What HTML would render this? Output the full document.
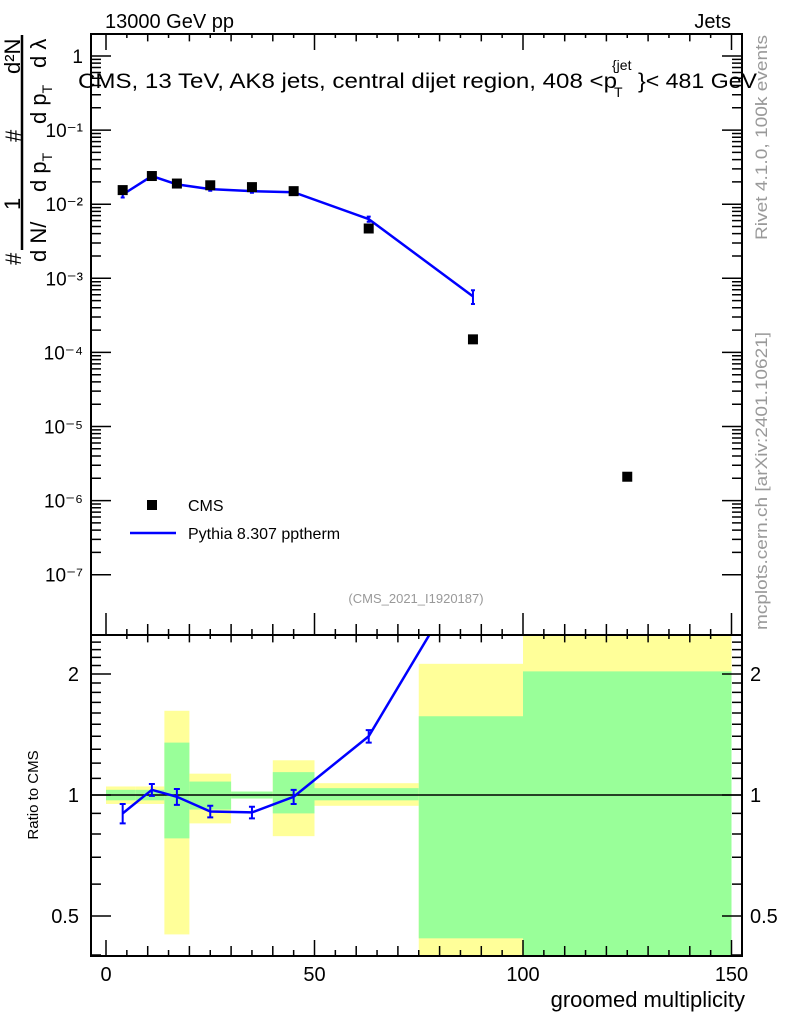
<!DOCTYPE html>
<html><head><meta charset="utf-8"><style>
body{margin:0;background:#fff}
svg{display:block;font-family:"Liberation Sans",sans-serif}
</style></head><body>
<svg id="chart" width="786" height="1024" viewBox="0 0 786 1024" xmlns="http://www.w3.org/2000/svg">
<g id="bands"></g>
<g id="marks"></g>
<g id="axes"></g>
<text x="105" y="28" font-size="20">13000 GeV pp</text>
<text x="731" y="28" font-size="20" text-anchor="end">Jets</text>
<g font-size="21">
<text x="78" y="88" textLength="539" lengthAdjust="spacingAndGlyphs">CMS, 13 TeV, AK8 jets, central dijet region, 408 &lt;p</text>
<text x="612" y="70" font-size="14">{jet</text>
<text x="614" y="97" font-size="14">T</text>
<text x="638" y="88" textLength="119" lengthAdjust="spacingAndGlyphs">}&lt; 481 GeV</text>
</g>
<text x="416" y="603" font-size="13" fill="#999" text-anchor="middle">(CMS_2021_I1920187)</text>
<text transform="translate(767,240) rotate(-90)" font-size="17" fill="#999" textLength="205" lengthAdjust="spacingAndGlyphs">Rivet 4.1.0,  100k events</text>
<text transform="translate(767,630) rotate(-90)" font-size="17" fill="#999" textLength="298" lengthAdjust="spacingAndGlyphs">mcplots.cern.ch [arXiv:2401.10621]</text>
<g font-size="22">
<line x1="22" y1="35" x2="22" y2="250" stroke="#000" stroke-width="2.5"/>
<text transform="translate(21,265) rotate(-90)">#</text>
<text transform="translate(20,210) rotate(-90)">1</text>
<text transform="translate(21,142) rotate(-90)">#</text>
<text transform="translate(20,74) rotate(-90)">d²N</text>
<text transform="translate(46,262) rotate(-90)">d N/</text>
<text transform="translate(46,192) rotate(-90)">d p<tspan font-size="14" dy="6">T</tspan></text>
<text transform="translate(46,124) rotate(-90)">d p<tspan font-size="14" dy="6">T</tspan></text>
<text transform="translate(46,68) rotate(-90)">d λ</text>
</g>
<text transform="translate(38,795) rotate(-90)" font-size="15" text-anchor="middle">Ratio to CMS</text>
<text x="745" y="1007" font-size="22" text-anchor="end">groomed multiplicity</text>
<g>
<rect x="147" y="500" width="10" height="10" fill="#000"/>
<text x="188" y="511" font-size="16">CMS</text>
<line x1="130" y1="533" x2="176" y2="533" stroke="#00f" stroke-width="2.5"/>
<text x="188" y="539" font-size="16">Pythia 8.307 pptherm</text>
</g>
</svg>
<script>
const xCms=[4,11,17,25,35,45,63,88,125];
const yCms=[0.0155,0.024,0.019,0.018,0.017,0.015,0.0047,0.00015,0.0000021];
const xMc=[4,11,17,25,35,45,63,88];
const yMc=[0.0135,0.024,0.0185,0.016,0.015,0.0145,0.0063,0.00057];
const yMcErr=[0.0012,0.0015,0.001,0.0008,0.0007,0.0007,0.0005,0.00012];
const ratio=[0.9,1.03,0.99,0.91,0.905,0.99,1.4,3.8];
const ratioErr=[0.05,0.035,0.045,0.03,0.03,0.04,0.05,0.3];
const binLo=[0,7,14,20,30,40,50,75,100];
const binHi=[7,14,20,30,40,50,75,100,150];
const greenLo=[0.97,0.97,0.78,0.92,0.98,0.9,0.97,0.44,0.3];
const greenHi=[1.03,1.03,1.35,1.08,1.02,1.14,1.04,1.57,2.03];
const yellowLo=[0.95,0.95,0.45,0.85,0.98,0.79,0.94,0.3,0.3];
const yellowHi=[1.05,1.05,1.62,1.13,1.02,1.22,1.07,2.12,2.6];
const xTickLabels=["0","50","100","150"];
const yTickLabels=["1","10⁻¹","10⁻²","10⁻³","10⁻⁴","10⁻⁵","10⁻⁶","10⁻⁷"];
const rTickVals=[0.5,1,2];
const rTickLabels=["0.5","1","2"];

const L=91,R=742,T=34,M=635,B=956;
const X=v=>106+v*4.17;
const Y=v=>56-Math.log10(v)*74.1;
const RY=v=>{const c=Math.min(Math.max(v,0.398),2.51);return 795-Math.log10(c)*402;};
const NS="http://www.w3.org/2000/svg";
function mk(p,tag,a){const e=document.createElementNS(NS,tag);for(const k in a)e.setAttribute(k,a[k]);p.appendChild(e);return e;}
const bands=document.getElementById('bands'),marks=document.getElementById('marks'),axes=document.getElementById('axes');

for(let i=0;i<binLo.length;i++){
 const x1=X(binLo[i]),x2=Math.min(X(binHi[i]),R);
 let r=mk(bands,'rect',{x:x1,y:RY(yellowHi[i]),width:x2-x1,height:RY(yellowLo[i])-RY(yellowHi[i]),fill:'#ffff99'});
 
 
 let g=mk(bands,'rect',{x:x1,y:RY(greenHi[i]),width:x2-x1,height:RY(greenLo[i])-RY(greenHi[i]),fill:'#99ff99'});
 
 
}
let one=mk(marks,'line',{x1:L,x2:R,y1:RY(1),y2:RY(1),stroke:'#000','stroke-width':1.5});



let pl=mk(marks,'polyline',{points:xMc.map((x,i)=>X(x)+','+Y(yMc[i])).join(' '),fill:'none',stroke:'#00f','stroke-width':2.5});


xMc.forEach((x,i)=>{
 const e=mk(marks,'path',{d:`M${X(x)},${Y(yMc[i]+yMcErr[i])}V${Y(yMc[i]-yMcErr[i])}M${X(x)-2},${Y(yMc[i]+yMcErr[i])}h4M${X(x)-2},${Y(yMc[i]-yMcErr[i])}h4`,stroke:'#00f','stroke-width':2});
 
 
});
xCms.forEach((x,i)=>{
 const r=mk(marks,'rect',{x:X(x)-5,y:Y(yCms[i])-5,width:10,height:10,fill:'#000'});
 
 
});
const cp=mk(marks,'clipPath',{id:'rclip'});mk(cp,'rect',{x:L,y:M,width:R-L,height:B-M});
const rl=mk(marks,'polyline',{points:xMc.map((x,i)=>X(x)+','+(795-Math.log10(ratio[i])*402)).join(' '),fill:'none',stroke:'#00f','stroke-width':2.5,'clip-path':'url(#rclip)'});


xMc.forEach((x,i)=>{
 if(ratio[i]>2.5)return;
 const a=RY(ratio[i]+ratioErr[i]),b=RY(ratio[i]-ratioErr[i]);
 const e=mk(marks,'path',{d:`M${X(x)},${a}V${b}M${X(x)-3},${a}h6M${X(x)-3},${b}h6`,stroke:'#00f','stroke-width':2});
 
 
});

mk(axes,'rect',{x:L,y:T,width:R-L,height:M-T,fill:'none',stroke:'#000','stroke-width':2});
mk(axes,'rect',{x:L,y:M,width:R-L,height:B-M,fill:'none',stroke:'#000','stroke-width':2});
let d='';
for(let v=0;v<=150;v+=5){const big=v%50===0,mid=v%10===0;const h=big?22:(mid?11:6);const x=X(v);
 d+=`M${x},${T}v${big?16:h/1.5}M${x},${M}v${-h}M${x},${M}v${big?-16:h/1.5}`;
 if(v%10===0||big)d+=`M${x},${B}v${-(big?16:10)}`; else d+=`M${x},${B}v-6`;}
for(let e=0;e>=-7;e--){for(let k=1;k<10;k++){const v=k*Math.pow(10,e);const y=Y(v);if(y<T||y>M)continue;const w=k===1?20:10;
 d+=`M${L},${y}h${w}M${R},${y}h${-w}`;}}
for(let k=0.4;k<=2.5;k+=0.1){const y=RY(k);if(y<=M||y>=B)continue;const w=(Math.abs(k-0.5)<.01||Math.abs(k-1)<.01||Math.abs(k-2)<.01)?20:10;d+=`M${L},${y}h${w}M${R},${y}h${-w}`;}
mk(axes,'path',{d:d,stroke:'#000','stroke-width':1.5,fill:'none'});
xTickLabels.forEach((t,i)=>{const e=mk(axes,'text',{x:X(i*50),y:981,'font-size':20,'text-anchor':'middle'});e.textContent=t;
 
 });
yTickLabels.forEach((t,i)=>{const e=mk(axes,'text',{x:83,y:Y(Math.pow(10,-i))+7,'font-size':19,'text-anchor':'end'});e.textContent=t;
 
 });
rTickVals.forEach((v,i)=>{[[79,'end'],[750,'start']].forEach(([x,a])=>{const e=mk(axes,'text',{x:x,y:RY(v)+7,'font-size':20,'text-anchor':a});e.textContent=rTickLabels[i];
 
 });});
</script>
</body></html>
